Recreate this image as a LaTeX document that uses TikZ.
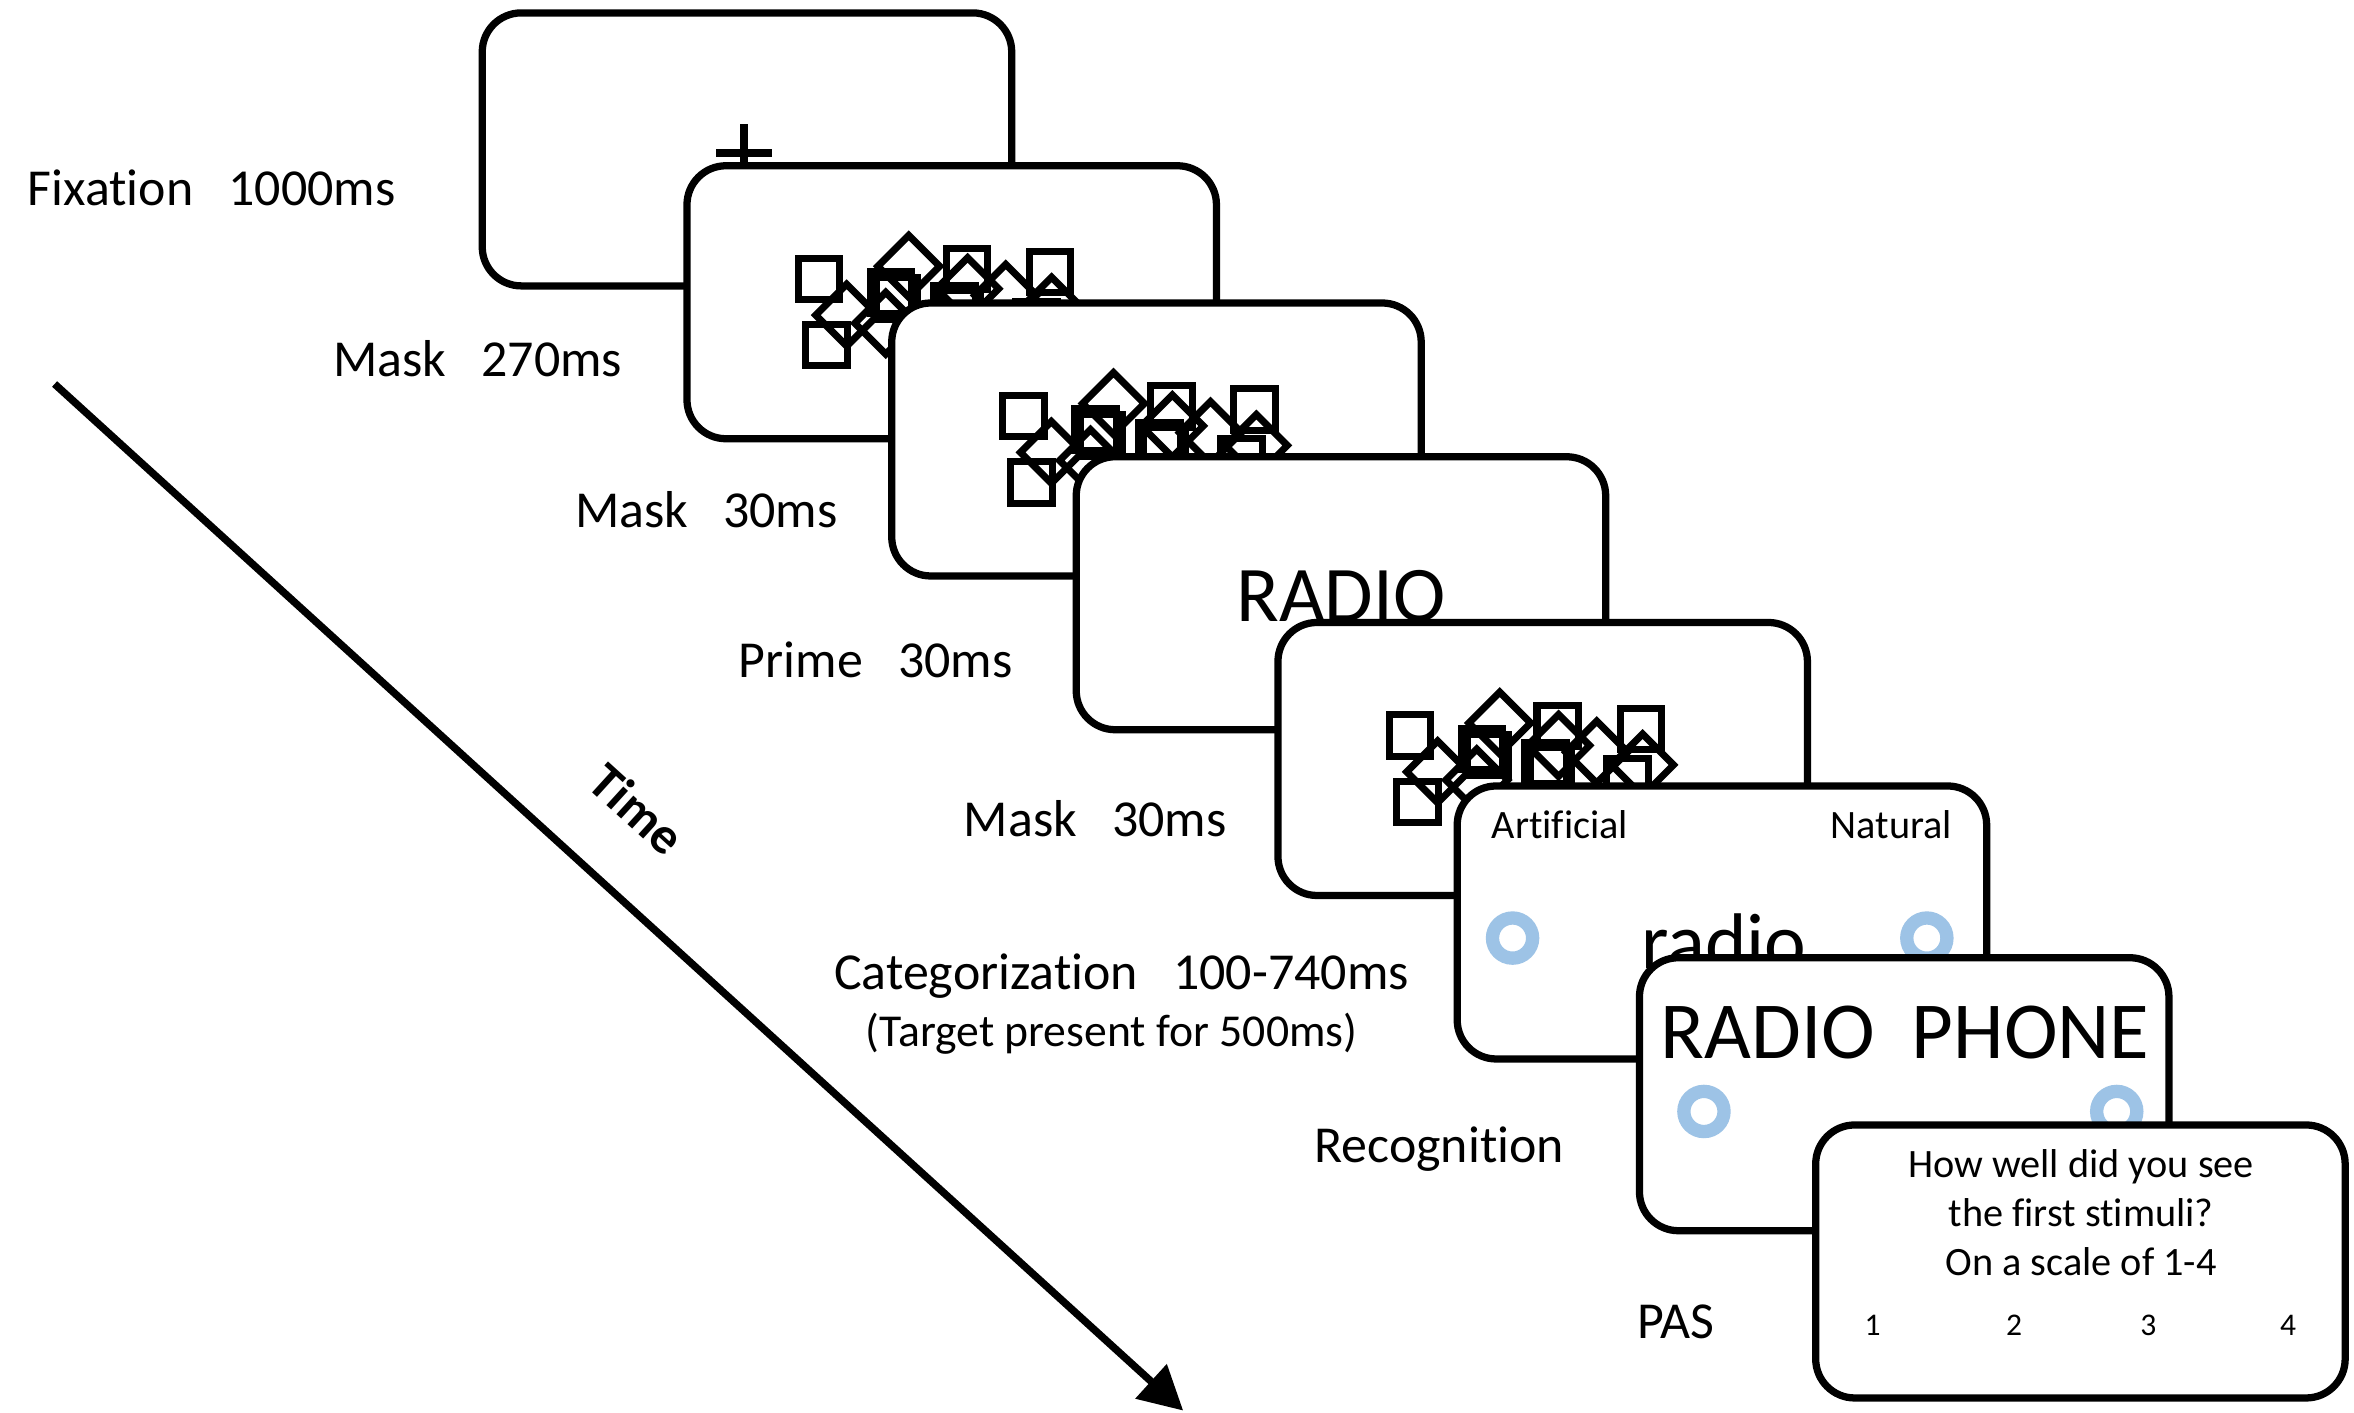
\documentclass[tikz,border=0pt]{standalone}
\usepackage{fontspec}
\setmainfont{Carlito}[Ligatures=NoCommon]
\usetikzlibrary{arrows.meta}

\definecolor{ringblue}{RGB}{157,195,230}

\tikzset{
  screen/.style={draw, fill=white, line width=1.75pt, rounded corners=0.13in,
    minimum width=1.765in, minimum height=0.91in, inner sep=0pt},
  phase/.style={font=\fontsize{12.5}{15}\selectfont, anchor=base west, inner sep=0pt},
  bigword/.style={font=\fontsize{19}{23}\selectfont, anchor=base, inner sep=0pt},
  smallword/.style={font=\fontsize{9.7}{11.8}\selectfont, anchor=base, inner sep=0pt},
  ring/.style={circle, draw=ringblue, line width=3.2pt, minimum size=0.134in, inner sep=0pt},
  maskline/.style={line width=1.7pt},
}

% squares and diamonds of the mask, placed round the centre of a screen
\newcommand{\maskshapes}[1]{%
  \begin{scope}[shift={(#1.center)}, maskline]
    \foreach \cx/\cy in {-0.443/0.078, -0.417/-0.143, -0.203/0.033, -0.183/0.013,
        0.05/0.11, 0.01/-0.013, 0.027/-0.03, 0.327/0.1, 0.283/-0.067}
      \draw (\cx-0.069,\cy-0.069) rectangle (\cx+0.069,\cy+0.069);
    \foreach \cx/\cy in {-0.35/-0.043, -0.143/0.12, -0.22/-0.07, 0.053/0.045,
        0.18/0.023, 0.333/-0.02}
      \draw (\cx-0.103,\cy) -- (\cx,\cy+0.103) -- (\cx+0.103,\cy) -- (\cx,\cy-0.103) -- cycle;
  \end{scope}}

\begin{document}
\begin{tikzpicture}[x=1in,y=1in]
\useasboundingbox (0,-4.71) rectangle (7.847,0);

% screens, back to front
\node[screen] (s1) at (2.49,-0.498) {};
\draw[line width=2pt] (2.388,-0.51) -- (2.572,-0.51) (2.48,-0.415) -- (2.48,-0.605);
\node[screen] (s2) at (3.1725,-1.0075) {};
\maskshapes{s2}
\node[screen] (s3) at (3.855,-1.465) {};
\maskshapes{s3}
\node[screen] (s4) at (4.47,-1.9775) {};
\node[bigword] (prime) at (4.47,-2.073) {RADIO};
\node[screen] (s5) at (5.1425,-2.53) {};
\maskshapes{s5}
\node[screen] (s6) at (5.74,-3.075) {};
\node[smallword, anchor=base west] (artif) at (4.97,-2.795) {Artificial};
\node[smallword, anchor=base east] (natur) at (6.51,-2.795) {Natural};
\node[ring] (c6l) at (5.042,-3.127) {};
\node[ring] (c6r) at (6.423,-3.127) {};
\node[bigword] (target) at (5.747,-3.23) {radio};
\node[screen] (s7) at (6.3475,-3.6475) {};
\node[bigword, font=\fontsize{19.5}{23}\selectfont] (choice) at (6.35,-3.527) {RADIO\ \ PHONE};
\node[ring] (c7l) at (5.68,-3.705) {};
\node[ring] (c7r) at (7.056,-3.705) {};
\node[screen] (s8) at (6.935,-4.205) {};
\node[smallword] (pasq1) at (6.937,-3.926) {How well did you see};
\node[smallword] (pasq2) at (6.937,-4.089) {the first stimuli?};
\node[smallword] (pasq3) at (6.937,-4.253) {On a scale of 1-4};
\foreach \n/\px in {1/6.242, 2/6.714, 3/7.161, 4/7.627}
  \node[smallword, font=\fontsize{7.6}{9}\selectfont] (n\n) at (\px,-4.453) {\n};

% phase names
\node[phase] (fix) at (0.09,-0.684) {Fixation\ \ \ 1000ms};
\node[phase] (mask1) at (1.108,-1.254) {Mask\ \ \ 270ms};
\node[phase] (mask2) at (1.914,-1.759) {Mask\ \ \ 30ms};
\node[phase] (primelbl) at (2.46,-2.26) {Prime\ \ \ 30ms};
\node[phase] (mask3) at (3.21,-2.787) {Mask\ \ \ 30ms};
\node[phase] (cat) at (2.778,-3.297) {Categorization\ \ \ 100-740ms};
\node[phase, font=\fontsize{11}{13}\selectfont] (catnote) at (2.883,-3.487) {(Target present for 500ms)};
\node[phase] (recog) at (4.379,-3.875) {Recognition};
\node[phase] (pas) at (5.457,-4.463) {PAS};

% time axis
\coordinate (tstart) at (0.182,-1.28);
\coordinate (tend) at (3.944,-4.702);
\draw[line width=1.8pt, -{Triangle[length=0.145in,width=0.15in]}] (tstart) -- (tend)
  node[pos=0.47, sloped, above=0.14in, font=\bfseries\fontsize{12.5}{15}\selectfont] (time) {Time};
\end{tikzpicture}
\end{document}
